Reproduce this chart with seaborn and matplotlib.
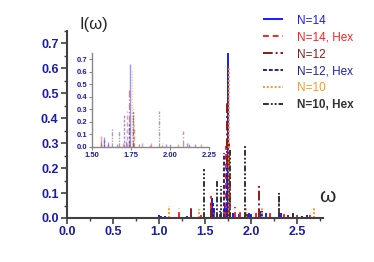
import matplotlib
matplotlib.use('Agg')
import matplotlib.pyplot as plt
import seaborn as sns
from matplotlib.ticker import MultipleLocator

sns.set_theme(style="ticks")
plt.rcParams['font.family'] = ['Liberation Sans', 'DejaVu Sans']

# ── data: stick spectra (frequency, intensity) ─────────────────────
n14_w = [1.00, 1.06, 1.30, 1.575, 1.60, 1.72, 1.745, 1.80, 1.87, 1.975, 2.107, 2.16, 2.32, 2.45, 2.60]
n14_i = [0.010, 0.008, 0.006, 0.080, 0.040, 0.050, 0.660, 0.020, 0.015, 0.020, 0.030, 0.020, 0.020, 0.010, 0.010]

n14h_w = [1.22, 1.45, 1.56, 1.60, 1.70, 1.722, 1.77, 1.82, 1.88, 2.05, 2.20, 2.35, 2.50, 2.64]
n14h_i = [0.040, 0.010, 0.090, 0.020, 0.030, 0.290, 0.175, 0.045, 0.030, 0.020, 0.020, 0.015, 0.010, 0.012]

n12_w = [1.35, 1.56, 1.735, 1.76, 1.95, 2.08, 2.30, 2.40]
n12_i = [0.045, 0.070, 0.460, 0.300, 0.015, 0.130, 0.090, 0.010]

n12h_w = [1.02, 1.58, 1.66, 1.707, 1.74, 2.00, 2.12, 2.55]
n12h_i = [0.008, 0.060, 0.030, 0.260, 0.200, 0.020, 0.030, 0.008]

n10_w = [1.11, 1.435, 1.758, 1.947, 2.115, 2.30, 2.68]
n10_i = [0.050, 0.035, 0.610, 0.040, 0.040, 0.050, 0.040]

n10h_w = [1.49, 1.625, 1.67, 1.765, 1.93, 2.30, 2.45]
n10h_i = [0.195, 0.155, 0.130, 0.280, 0.290, 0.100, 0.020]

series = [
    ("N=14", n14_w, n14_i, '#1a1aff', '-', 'normal'),
    ("N=14, Hex", n14h_w, n14h_i, '#ff2020', (0, (3, 2)), 'normal'),
    ("N=12", n12_w, n12_i, '#8b1a1a', (0, (5, 1.5, 1, 1.5)), 'normal'),
    ("N=12, Hex", n12h_w, n12h_i, '#2020a8', (0, (2, 1)), 'normal'),
    ("N=10", n10_w, n10_i, '#ff9922', (0, (1, 1)), 'normal'),
    ("N=10, Hex", n10h_w, n10h_i, '#333333', (0, (3, 1, 1, 1, 1, 1)), 'bold'),
]

tick_col = '#1c1caa'
spine_col = '#404040'

fig = plt.figure(figsize=(3.74, 2.62), dpi=100)
ax = fig.add_axes([0.179, 0.168, 0.685, 0.714])

handles = []
for lab, w, inten, col, ls, _ in series:
    h = ax.vlines(w, 0, inten, colors=col, linestyles=ls, linewidth=1.4, label=lab)
    handles.append(h)

ax.set_xlim(0, 2.78)
ax.set_ylim(0, 0.75)
ax.xaxis.set_major_locator(MultipleLocator(0.5))
ax.xaxis.set_minor_locator(MultipleLocator(0.25))
ax.yaxis.set_major_locator(MultipleLocator(0.1))
ax.yaxis.set_minor_locator(MultipleLocator(0.05))
ax.xaxis.set_major_formatter(matplotlib.ticker.FormatStrFormatter('%.1f'))
ax.yaxis.set_major_formatter(matplotlib.ticker.FormatStrFormatter('%.1f'))
ax.tick_params(which='major', length=4, width=1.2, color=spine_col, labelsize=9,
               labelcolor=tick_col, pad=2)
ax.tick_params(which='minor', length=2.5, width=1, color=spine_col)
for t in ax.get_xticklabels() + ax.get_yticklabels():
    t.set_fontweight('bold')
sns.despine(ax=ax)
for s in ['left', 'bottom']:
    ax.spines[s].set_color(spine_col)
    ax.spines[s].set_linewidth(1.5)
ax.patch.set_alpha(0)

fig.text(94 / 374, 1 - 25 / 262, u'I(\u03c9)', fontsize=12, ha='center', va='center')
fig.text(327 / 374, 1 - 196 / 262, u'\u03c9', fontsize=15, ha='center', va='center')

leg = fig.legend(handles=handles, loc='upper left', bbox_to_anchor=(252 / 374, 1 - 4 / 262),
                 frameon=False, fontsize=8.5, handlelength=1.7, handletextpad=1.2,
                 labelspacing=0.42)
for txt, s in zip(leg.get_texts(), series):
    txt.set_color(s[3])
    txt.set_fontweight(s[5])

# ── inset ──────────────────────────────────────────────────────────
ins = fig.add_axes([0.246, 0.439, 0.313, 0.359])
for lab, w, inten, col, ls, _ in series:
    ins.vlines(w, 0, inten, colors=col, linestyles=ls, linewidth=1.0, alpha=0.45)
ins.set_xlim(1.5, 2.25)
ins.set_ylim(0, 0.75)
ins.xaxis.set_major_locator(MultipleLocator(0.25))
ins.yaxis.set_major_locator(MultipleLocator(0.1))
ins.xaxis.set_major_formatter(matplotlib.ticker.FormatStrFormatter('%.2f'))
ins.yaxis.set_major_formatter(matplotlib.ticker.FormatStrFormatter('%.1f'))
ins.tick_params(length=2, width=0.8, color='#888888', labelsize=5.5,
                labelcolor=tick_col, pad=1.5)
for t in ins.get_xticklabels() + ins.get_yticklabels():
    t.set_fontweight('bold')
sns.despine(ax=ins)
for s in ['left', 'bottom']:
    ins.spines[s].set_color('#888888')
    ins.spines[s].set_linewidth(1.0)
ins.patch.set_alpha(0)

fig.savefig('out.png', dpi=100)
